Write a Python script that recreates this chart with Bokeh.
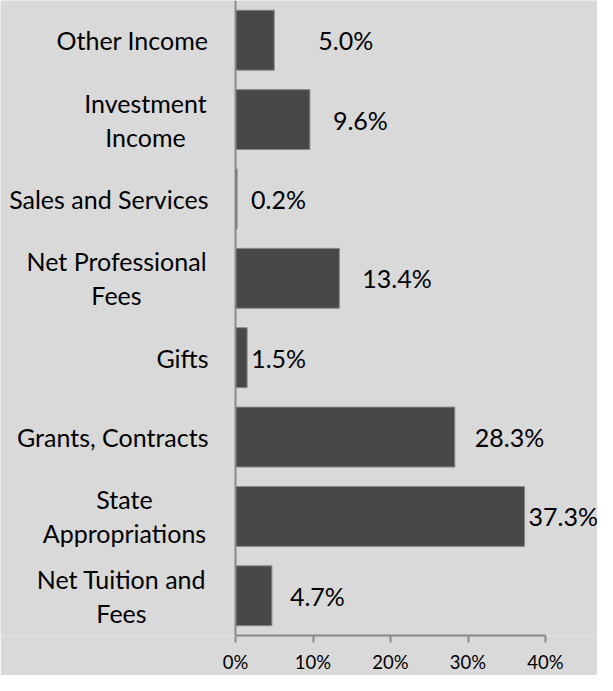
from bokeh.plotting import figure
from bokeh.models import FactorRange, Range1d, FixedTicker, LabelSet, ColumnDataSource, Span
from bokeh.core.properties import value
from bokeh.embed import file_html
from bokeh.resources import INLINE

# data (top to bottom as in the chart)
categories = ["Other Income", "Investment\nIncome", "Sales and Services",
              "Net Professional\nFees", "Gifts", "Grants, Contracts",
              "State\nAppropriations", "Net Tuition and\nFees"]
shares = [5.0, 9.6, 0.2, 13.4, 1.5, 28.3, 37.3, 4.7]
share_labels = ["5.0%", "9.6%", "0.2%", "13.4%", "1.5%", "28.3%", "37.3%", "4.7%"]
tick_values = [0, 10, 20, 30, 40]
tick_labels = ["0%", "10%", "20%", "30%", "40%"]

# styling: label placement in pixels
label_gap_px = [44, 23, 14, 23, 4, 20, 4, 18]
cat_offset_px = [-27, -90, -27, -119, -27, -27, -111, -114]
LINE_SPACING = 34

FONT = "Lato"
BG = "#d9d9d9"
AXIS = "#8a8a8a"
W, H = 597, 675
AXIS_X = 235          # pixel position of the 0% line inside the figure
PX_PER_PCT = 7.75

src = ColumnDataSource(dict(cat=categories, val=shares, lab=share_labels,
                            gap=label_gap_px))

# one row per text line of the category labels
line_txt, line_cat, line_x, line_dx, line_dy, line_align = [], [], [], [], [], []
for cat, off in zip(categories, cat_offset_px):
    parts = cat.split("\n")
    n = len(parts)
    for i, t in enumerate(parts):
        line_txt.append(t)
        line_cat.append(cat)
        line_x.append(0)
        line_dx.append(off)
        line_dy.append(((n - 1) / 2 - i) * LINE_SPACING)
        line_align.append("right" if n == 1 else "center")
cat_src = ColumnDataSource(dict(txt=line_txt, cat=line_cat, x=line_x,
                                dx=line_dx, dy=line_dy, align=line_align))

p = figure(width=W, height=H,
           y_range=FactorRange(factors=categories[::-1]),
           x_range=Range1d(-AXIS_X / PX_PER_PCT, (W - AXIS_X) / PX_PER_PCT),
           output_backend="svg", toolbar_location=None,
           min_border_left=0, min_border_right=0,
           min_border_top=0, min_border_bottom=37)

p.background_fill_color = BG
p.border_fill_color = BG
p.outline_line_color = None
p.xgrid.visible = False
p.ygrid.visible = False
p.yaxis.visible = False

p.hbar(y="cat", right="val", left=0, height=0.755, source=src,
       fill_color="#484848", line_color="#8a8a8a", line_width=1)

# vertical (category) axis line at 0%
p.add_layout(Span(location=0, dimension="height", line_color=AXIS, line_width=2))

# category labels
cat_labels = LabelSet(x="x", y="cat", text="txt", x_offset="dx", y_offset="dy",
                      source=cat_src, text_baseline="middle", text_align="align",
                      text_font=value(FONT), text_font_size=value("25px"),
                      text_color="#000000")
p.add_layout(cat_labels)

# value labels
labels = LabelSet(x="val", y="cat", text="lab", x_offset="gap", source=src,
                  text_baseline="middle", text_align="left",
                  text_font=value(FONT), text_font_size=value("25px"),
                  text_color="#000000")
p.add_layout(labels)

xa = p.xaxis[0]
xa.bounds = (tick_values[0], tick_values[-1])
xa.ticker = FixedTicker(ticks=tick_values)
xa.major_label_overrides = {v: l for v, l in zip(tick_values, tick_labels)}
xa.minor_tick_line_color = None
xa.major_tick_in = 0
xa.major_tick_out = 7
xa.major_tick_line_color = AXIS
xa.major_tick_line_width = 2
xa.axis_line_color = AXIS
xa.axis_line_width = 2
xa.major_label_text_font = FONT
xa.major_label_text_font_size = "18.5px"
xa.major_label_text_color = "#000000"
xa.major_label_standoff = 8

open("out.html", "w").write(file_html(p, INLINE))
